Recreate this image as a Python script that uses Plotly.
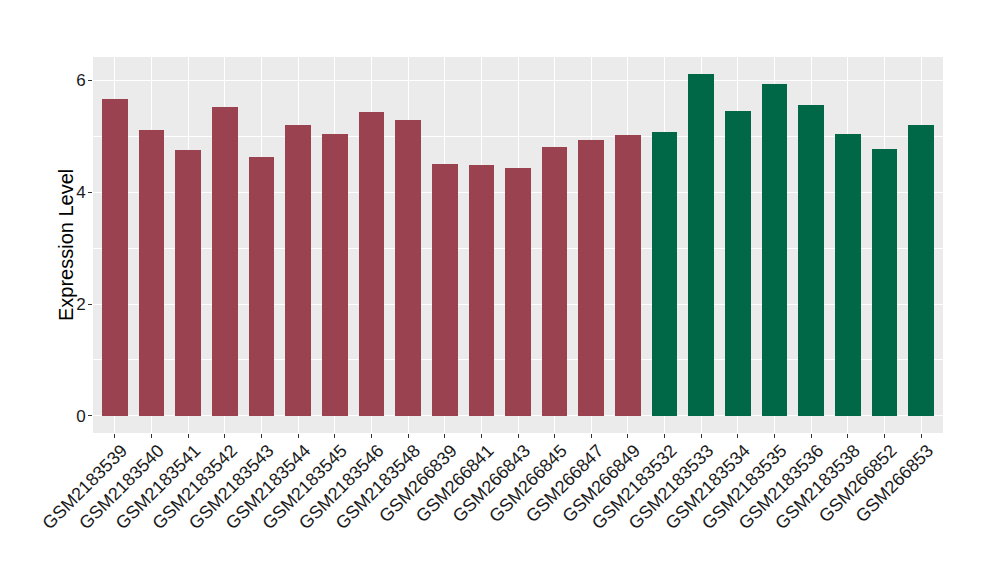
import plotly.graph_objects as go

samples = ["GSM2183539", "GSM2183540", "GSM2183541", "GSM2183542", "GSM2183543",
           "GSM2183544", "GSM2183545", "GSM2183546", "GSM2183548", "GSM266839",
           "GSM266841", "GSM266843", "GSM266845", "GSM266847", "GSM266849",
           "GSM2183532", "GSM2183533", "GSM2183534", "GSM2183535", "GSM2183536",
           "GSM2183538", "GSM266852", "GSM266853"]
values = [5.66, 5.11, 4.75, 5.52, 4.63, 5.20, 5.04, 5.43, 5.29, 4.50,
          4.48, 4.43, 4.80, 4.93, 5.02, 5.07, 6.11, 5.45, 5.93, 5.55,
          5.04, 4.78, 5.20]
groups = ["A"] * 15 + ["B"] * 8
group_colors = {"A": "#9A4250", "B": "#006846"}

colors = [group_colors[g] for g in groups]

fig = go.Figure(go.Bar(
    x=samples, y=values, marker=dict(color=colors, line=dict(width=0)),
    width=0.7, showlegend=False,
))

ymax = max(values)
pad = ymax * 0.05
tickfont = dict(family="Liberation Sans, Arial, sans-serif", size=18, color="#1a1a1a")

fig.update_layout(
    width=1000, height=580,
    margin=dict(l=85, r=65, t=49, b=155),
    paper_bgcolor="white",
    plot_bgcolor="#EBEBEB",
    bargap=0,
    xaxis=dict(
        type="category", range=[-0.6, len(samples) - 0.4],
        showgrid=True, gridcolor="white", gridwidth=1.2,
        ticks="outside", ticklen=4, tickcolor="#333333", tickwidth=1,
        tickangle=-45, tickfont=tickfont, zeroline=False, showline=False,
        ticklabelshift=7, ticklabelstandoff=-5,
    ),
    yaxis=dict(
        range=[-pad, ymax + pad], tickvals=[0, 2, 4, 6], ticktext=["0", "2", "4", "6"],
        showgrid=True, gridcolor="white", gridwidth=1.2,
        minor=dict(tickvals=[1, 3, 5], showgrid=True, gridcolor="white", gridwidth=0.6, ticks=""),
        ticks="outside", ticklen=4, tickcolor="#333333", tickwidth=1,
        tickfont=dict(family="Liberation Sans, Arial, sans-serif", size=17, color="#1a1a1a"),
        zeroline=False, showline=False, ticklabelstandoff=-1,
    ),
    annotations=[dict(
        text="Expression Level", xref="paper", yref="paper",
        x=-27 / 850, y=0.5, xanchor="center", yanchor="middle",
        textangle=-90, showarrow=False,
        font=dict(family="Liberation Sans, Arial, sans-serif", size=20, color="black"),
    )],
)

fig.write_html("out.html")
